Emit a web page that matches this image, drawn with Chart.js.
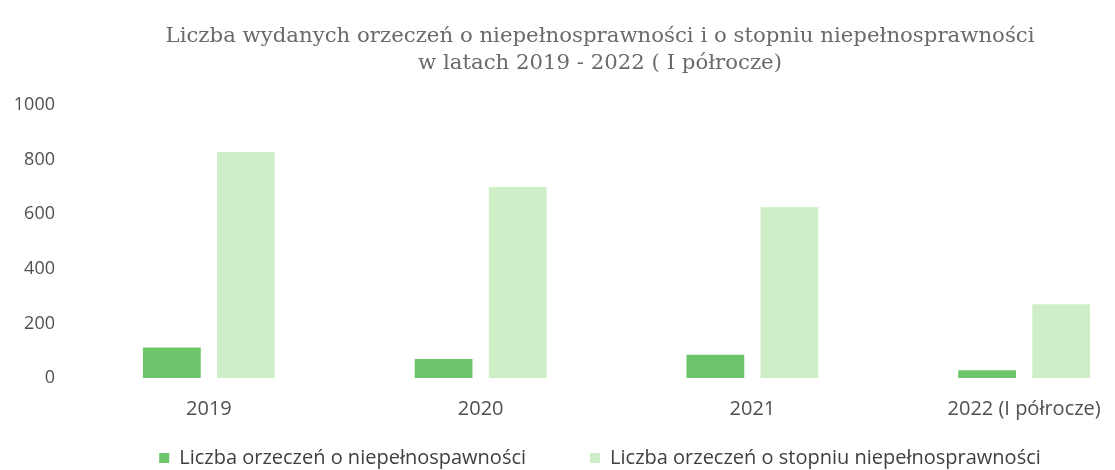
<!DOCTYPE html>
<html lang="pl">
<head>
<meta charset="utf-8">
<title>Orzeczenia o niepełnosprawności 2019-2022</title>
<script src="https://cdn.jsdelivr.net/npm/chart.js@4.4.1/dist/chart.umd.min.js"></script>
<style>
    html, body { margin: 0; padding: 0; background: #fff; overflow: hidden; }
    #wrap { position: relative; width: 1200px; height: 470px; }
</style>
</head>
<body>
<div id="wrap"><canvas id="orzeczeniaChart"></canvas></div>
<script>
(function () {
    'use strict';

    // ─── Data ─────────────────────────────────────────────────────────────────
    const years       = ['2019', '2020', '2021', '2022 (I półrocze)'];
    const niepeln     = [112, 70, 85, 28];     // orzeczenia o niepełnosprawności
    const stopien     = [828, 700, 625, 270];  // orzeczenia o stopniu niepełnosprawności
    const yTicks      = [0, 200, 400, 600, 800, 1000];

    const TITLE = [
        'Liczba wydanych orzeczeń o niepełnosprawności i o stopniu niepełnosprawności',
        'w latach 2019 - 2022 ( I półrocze)'
    ];

    const SANS = "'Open Sans', 'Noto Sans', sans-serif";
    const GAP  = '\u2003\u2003\u2003'; // wide gap between legend items

    const ctx = document.getElementById('orzeczeniaChart');

    new Chart(ctx, {
        type: 'bar',
        data: {
            labels: years,
            datasets: [{
                label:           'Liczba orzeczeń o niepełnospawności',
                data:            niepeln,
                backgroundColor: '#6cc46b',
                barPercentage:      0.78,
                categoryPercentage: 0.545,
            }, {
                label:           'Liczba orzeczeń o stopniu niepełnosprawności',
                data:            stopien,
                backgroundColor: '#cdeec6',
                barPercentage:      0.78,
                categoryPercentage: 0.545,
            }],
        },
        options: {
            responsive: true,
            maintainAspectRatio: false,
            animation: false,
            layout: { padding: { left: 10, right: 10, top: 23, bottom: -8 } },
            plugins: {
                title: {
                    display: true,
                    text: TITLE,
                    color: '#6a6a6a',
                    font: { family: "'DejaVu Serif', serif", size: 21.25, weight: 'normal', lineHeight: 1.27 },
                    padding: { top: 0, bottom: 28 },
                },
                legend: {
                    position: 'bottom',
                    labels: {
                        color: '#404040',
                        font: { family: SANS, size: 20 },
                        boxWidth: 10,
                        boxHeight: 10,
                        padding: 4,
                        generateLabels: chart => {
                            const items = Chart.defaults.plugins.legend.labels.generateLabels(chart);
                            items.forEach((it, i) => {
                                it.lineWidth = 0;
                                if (i < items.length - 1) it.text = it.text + GAP;
                            });
                            return items;
                        },
                    },
                },
                tooltip: { enabled: false },
            },
            scales: {
                x: {
                    grid:   { display: false, drawTicks: false },
                    border: { display: false },
                    ticks:  { color: '#505050', font: { family: SANS, size: 20 }, padding: 19 },
                    afterFit: s => { s.height += 4; },
                },
                y: {
                    min: 0,
                    max: 1000,
                    afterBuildTicks: axis => { axis.ticks = yTicks.map(v => ({ value: v })); },
                    grid:   { display: false, drawTicks: false },
                    border: { display: false },
                    ticks:  {
                        color: '#505050',
                        font: { family: SANS, size: 18 },
                        padding: 18,
                        callback: v => String(v),
                    },
                    afterFit: s => { s.width = 63; },
                },
                // empty right margin so the title and legend sit centred like the original
                yRight: {
                    position: 'right',
                    grid:   { display: false, drawTicks: false },
                    border: { display: false },
                    ticks:  { display: false },
                    afterFit: s => { s.width = 30; },
                },
            },
        },
    });
})();
</script>
</body>
</html>
